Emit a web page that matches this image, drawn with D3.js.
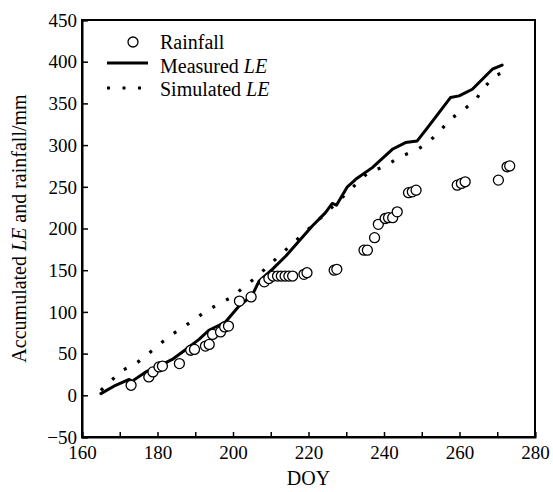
<!DOCTYPE html>
<html>
<head>
<meta charset="utf-8">
<script src="https://cdn.jsdelivr.net/npm/d3@7"></script>
<style>
  body { margin: 0; background: #fff; }
  svg { font-family: "Liberation Serif", "DejaVu Serif", serif; }
</style>
</head>
<body>
<svg id="chart" width="553" height="492"></svg>
<script>
// Rainfall (accumulated) observations: DOY and mm
const rainDoy = [173, 177.7, 178.8, 180.4, 181.3, 185.8, 188.8, 189.8, 192.7, 193.7,
  194.6, 196.7, 197.8, 198.8, 201.7, 204.8, 208.3, 209.5, 210.6, 211.8,
  212.8, 213.8, 214.8, 215.8, 218.8, 219.6, 226.8, 227.5, 234.7, 235.6,
  237.5, 238.5, 240.3, 241.2, 242.3, 243.5, 246.5, 247.5, 248.5, 259.4,
  260.5, 261.5, 270.3, 272.6, 273.3];
const rainVal = [12, 22, 28, 34, 35, 38, 54, 55, 59, 61,
  73, 76, 82, 83, 113, 118, 136, 140, 143, 143,
  143, 143, 143, 143, 145, 147, 150, 151, 174, 174,
  189, 205, 212, 213, 213, 220, 243, 244, 246, 252,
  254, 256, 258, 274, 275];

// Measured accumulated LE
const measDoy = [165, 168.9, 172.5, 173.3, 176.9, 180.4, 183.9, 187.5, 191, 193.6,
  196.3, 198, 201.6, 205.1, 206.9, 210.4, 214, 217.5, 221, 224.5,
  226.3, 227.4, 230.3, 232.5, 236.9, 242.2, 245.7, 248.8, 251.9, 257.6,
  259.9, 263.4, 268.7, 271.3];
const measVal = [2, 12, 19, 17, 28, 35, 43, 55, 67, 78,
  84, 88, 107, 120, 137, 151, 167, 185, 203, 219,
  230, 228, 250, 259, 273, 295, 303, 305, 323, 357,
  359, 367, 391, 396];

// Simulated accumulated LE
const simDoy = [165, 167.6, 170.7, 174, 177.1, 180.2, 183.5, 186.6, 190.1, 193.2,
  196.5, 199.8, 202.9, 206, 209.1, 212.2, 225, 236, 238.7, 241.7,
  245.3, 248.6, 251.7, 254.8, 257.9, 261.2, 264.3, 266.3, 269.4, 272.8];
const simVal = [6, 17, 30, 37, 48, 60, 72, 81, 92, 102,
  110, 118, 130, 141, 154, 167, 220, 268, 272, 279,
  288, 294, 303, 317, 332, 343, 354, 368, 383, 390];

const xTicks = d3.range(160, 281, 10);
const xLabels = d3.range(160, 281, 20);
const yTicks = d3.range(-50, 451, 50);

const margin = { top: 20, right: 18, bottom: 55, left: 82 };
const svg = d3.select('#chart');
const width = 553 - margin.left - margin.right;
const height = 492 - margin.top - margin.bottom;

const x = d3.scaleLinear().domain([160, 280]).range([0, width]);
const y = d3.scaleLinear().domain([-50, 450]).range([height, 0]);

const g = svg.append('g').attr('transform', `translate(${margin.left},${margin.top})`);

// Frame
g.append('rect')
  .attr('width', width).attr('height', height)
  .attr('fill', 'none').attr('stroke', '#000').attr('stroke-width', 2);

// Axes with inward ticks
const xAxis = d3.axisBottom(x).tickValues(xTicks).tickSize(-5)
  .tickFormat(d => xLabels.includes(d) ? d : '');
const yAxis = d3.axisLeft(y).tickValues(yTicks).tickSize(-6).tickPadding(5)
  .tickFormat(d => d < 0 ? '\u2212' + Math.abs(d) : d);

const xG = g.append('g').attr('transform', `translate(0,${height})`).call(xAxis);
const yG = g.append('g').call(yAxis);
[xG, yG].forEach(a => {
  a.select('.domain').attr('stroke-width', 2);
  a.selectAll('.tick line').attr('stroke-width', 1.5);
  a.selectAll('.tick text').attr('font-size', 19).attr('font-family', '"Liberation Serif", serif').attr('fill', '#000');
});
xG.selectAll('.tick text').attr('y', 22).attr('dy', 0);
yG.selectAll('.tick text').attr('dy', '0.33em');

// Axis titles
svg.append('text')
  .attr('x', margin.left + width / 2).attr('y', 485)
  .attr('text-anchor', 'middle').attr('font-size', 20)
  .text('DOY');

const yTitle = svg.append('text')
  .attr('transform', `translate(26,${margin.top + height / 2}) rotate(-90)`)
  .attr('text-anchor', 'middle').attr('font-size', 20);
yTitle.append('tspan').text('Accumulated ');
yTitle.append('tspan').attr('font-style', 'italic').text('LE');
yTitle.append('tspan').text(' and rainfall/mm');

// Lines
const line = d3.line().x(d => x(d[0])).y(d => y(d[1]));

g.append('path')
  .datum(simDoy.map((d, i) => [d, simVal[i]]))
  .attr('d', line)
  .attr('fill', 'none').attr('stroke', '#000')
  .attr('stroke-width', 3.2).attr('stroke-dasharray', '3,12.5');

g.append('path')
  .datum(measDoy.map((d, i) => [d, measVal[i]]))
  .attr('d', line)
  .attr('fill', 'none').attr('stroke', '#000')
  .attr('stroke-width', 3).attr('stroke-linejoin', 'round').attr('stroke-linecap', 'round');

// Rainfall circles
g.selectAll('circle.rain')
  .data(rainDoy.map((d, i) => [d, rainVal[i]]))
  .join('circle')
  .attr('class', 'rain')
  .attr('cx', d => x(d[0])).attr('cy', d => y(d[1]))
  .attr('r', 5)
  .attr('fill', '#fff').attr('stroke', '#000').attr('stroke-width', 1.3);

// Legend
const legend = svg.append('g').attr('font-size', 20);
legend.append('circle').attr('cx', 133).attr('cy', 42).attr('r', 5)
  .attr('fill', '#fff').attr('stroke', '#000').attr('stroke-width', 1.3);
legend.append('line').attr('x1', 107).attr('x2', 148).attr('y1', 63).attr('y2', 63)
  .attr('stroke', '#000').attr('stroke-width', 3.2);
legend.append('line').attr('x1', 107).attr('x2', 148).attr('y1', 88).attr('y2', 88)
  .attr('stroke', '#000').attr('stroke-width', 3.2).attr('stroke-dasharray', '3,12.5');

const legendItems = [['Rainfall', ''], ['Measured ', 'LE'], ['Simulated ', 'LE']];
legendItems.forEach((item, i) => {
  const t = legend.append('text').attr('x', 160).attr('y', 49 + i * 23.5);
  t.append('tspan').text(item[0]);
  if (item[1]) t.append('tspan').attr('font-style', 'italic').text(item[1]);
});
</script>
</body>
</html>
